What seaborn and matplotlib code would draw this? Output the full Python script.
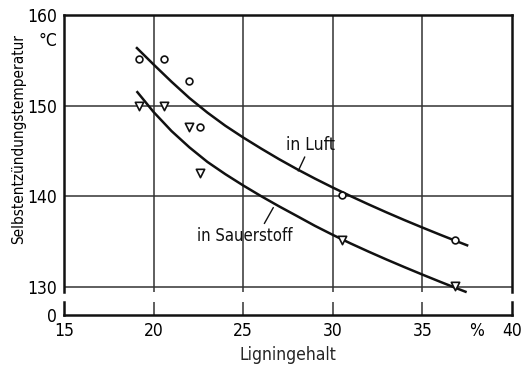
import matplotlib
matplotlib.use("Agg")
import matplotlib.pyplot as plt
import seaborn as sns
import pandas as pd

# ---------------- data ----------------
# measured points (open circles: in Luft, open triangles: in Sauerstoff)
luft_x = [19.2, 20.6, 22.0, 22.6, 30.5, 36.8]
luft_y = [155.2, 155.2, 152.7, 147.6, 140.1, 135.2]
sauer_x = [19.2, 20.6, 22.0, 22.6, 30.5, 36.8]
sauer_y = [150.0, 150.0, 147.6, 142.6, 135.2, 130.1]

# hand-drawn fit curves
luft_curve_x = [19.02, 20, 21, 22, 23, 24, 25, 26, 27, 28, 29, 30, 31, 32, 33, 34, 35, 36, 37, 37.56]
luft_curve_y = [156.45, 154.54, 152.64, 150.84, 149.24, 147.79, 146.49, 145.27, 144.1, 143.0,
                141.96, 140.97, 140.02, 139.11, 138.23, 137.38, 136.56, 135.76, 134.98, 134.55]
sauer_curve_x = [19.05, 20, 21, 22, 23, 24, 25, 26, 27, 28, 29, 30, 31, 32, 33, 34, 35, 36, 37, 37.47]
sauer_curve_y = [151.6, 149.3, 147.2, 145.4, 143.8, 142.45, 141.2, 140.02, 138.9, 137.83,
                 136.75, 135.75, 134.8, 133.9, 133.03, 132.19, 131.37, 130.57, 129.79, 129.43]

x_ticks = [15, 20, 25, 30, 35, 40]
x_tick_labels = ["15", "20", "25", "30", "35", "40"]
y_ticks = [130, 140, 150, 160]
y_tick_labels = ["130", "140", "150", "160"]
x_grid = [20, 25, 30, 35]
y_grid = [130, 140, 150]

x_label = "Ligningehalt"
y_label = "Selbstentzündungstemperatur"
label_luft = "in Luft"
label_sauer = "in Sauerstoff"

# ---------------- style ----------------
sns.set_theme(style="white")
plt.rcParams["font.family"] = ["DejaVu Sans"]
plt.rcParams["font.stretch"] = "condensed"
plt.rcParams["text.color"] = "black"
plt.rcParams["xtick.color"] = "black"
plt.rcParams["ytick.color"] = "black"

FS = 12.5
INK = "#111111"
GRID = "#333333"

fig = plt.figure(figsize=(5.22, 3.65), dpi=100)
fig.patch.set_facecolor("white")

left, width = 64 / 522, 448 / 522
ax = fig.add_axes([left, 1 - 292 / 365, width, (292 - 15) / 365])
axb = fig.add_axes([left, 1 - 315 / 365, width, 13 / 365])

for a in (ax, axb):
    a.set_facecolor("white")
    a.set_xlim(15, 40)

ax.set_ylim(129.45, 160)
axb.set_ylim(0, 1)

# grid lines
for xv in x_grid:
    ax.axvline(xv, color=GRID, lw=1.1, zorder=1)
    axb.axvline(xv, color=GRID, lw=1.1, zorder=1)
for yv in y_grid:
    ax.axhline(yv, color=GRID, lw=1.1, zorder=1)

# curves
df_l = pd.DataFrame({"x": luft_curve_x, "y": luft_curve_y})
df_s = pd.DataFrame({"x": sauer_curve_x, "y": sauer_curve_y})
sns.lineplot(data=df_l, x="x", y="y", ax=ax, color=INK, lw=1.8, sort=False, estimator=None, zorder=3)
sns.lineplot(data=df_s, x="x", y="y", ax=ax, color=INK, lw=1.8, sort=False, estimator=None, zorder=3)
for line in ax.lines:
    line.set_clip_on(False)
    line.set_solid_capstyle("butt")

# markers
sns.scatterplot(x=luft_x, y=luft_y, ax=ax, marker="o", s=24, facecolor="white",
                edgecolor=INK, linewidth=1.2, zorder=4)
sns.scatterplot(x=sauer_x, y=sauer_y, ax=ax, marker="v", s=36, facecolor="white",
                edgecolor=INK, linewidth=1.2, zorder=4)

# annotations
ax.annotate(label_luft, xy=(28.07, 142.8), xytext=(27.4, 145.7), fontsize=FS,
            ha="left", va="center", color=INK,
            arrowprops=dict(arrowstyle="-", color=INK, lw=1.0, shrinkA=0, shrinkB=0,
                            relpos=(0.41, 0.0)))
ax.annotate(label_sauer, xy=(26.68, 138.76), xytext=(22.4, 135.65), fontsize=FS - 0.5,
            ha="left", va="center", color=INK,
            arrowprops=dict(arrowstyle="-", color=INK, lw=1.0, shrinkA=0, shrinkB=0,
                            relpos=(0.69, 1.0)))

# spines
for s in ("top", "left", "right"):
    ax.spines[s].set_visible(True)
    ax.spines[s].set_color(INK)
    ax.spines[s].set_linewidth(1.8)
ax.spines["bottom"].set_visible(False)
for s in ("left", "right", "bottom"):
    axb.spines[s].set_visible(True)
    axb.spines[s].set_color(INK)
    axb.spines[s].set_linewidth(1.8)
axb.spines["top"].set_visible(False)

# ticks
ax.set_xticks([])
ax.set_yticks(y_ticks)
ax.set_yticklabels(y_tick_labels, fontsize=FS)
ax.tick_params(axis="y", length=0, pad=5)
ax.set_xlabel("")
ax.set_ylabel("")

axb.set_yticks([0])
axb.set_yticklabels(["0"], fontsize=FS)
axb.set_xticks(x_ticks)
axb.set_xticklabels(x_tick_labels, fontsize=FS)
axb.tick_params(axis="both", length=0, pad=5)
axb.set_xlabel(x_label, fontsize=FS, labelpad=4)
axb.set_ylabel("")

# units
ax.text(-0.016, 157.1, "°C", transform=ax.get_yaxis_transform(), ha="right", va="center",
        fontsize=FS)
axb.annotate("%", xy=(38.05, 0), xycoords=axb.get_xaxis_transform(), xytext=(0, -5),
             textcoords="offset points", ha="center", va="top", fontsize=FS)

fig.text(19 / 522, 1 - 139 / 365, y_label, rotation=90, ha="center", va="center",
         fontsize=FS - 1.5)

fig.savefig("out.png", dpi=100, facecolor="white")
